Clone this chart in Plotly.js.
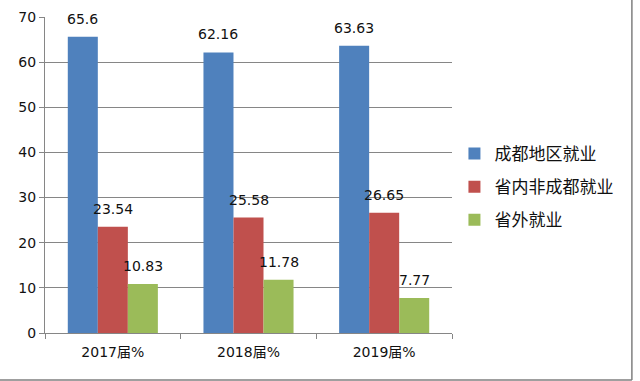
<!DOCTYPE html>
<html><head><meta charset="utf-8">
<script src="https://cdn.plot.ly/plotly-3.0.1.min.js"></script>
<style>html,body{margin:0;padding:0;background:#fff}#c{width:640px;height:381px}</style>
</head><body><div id="c"></div>
<script>
const categories = ['2017届%', '2018届%', '2019届%'];
const seriesNames = ['成都地区就业', '省内非成都就业', '省外就业'];
const chengdu = [65.6, 62.16, 63.63];
const provinceOther = [23.54, 25.58, 26.65];
const outside = [10.83, 11.78, 7.77];
const seriesValues = [chengdu, provinceOther, outside];
const colors = ['#4F81BD', '#C0504D', '#9BBB59'];
const yTicks = [0, 10, 20, 30, 40, 50, 60, 70];

const bargap = 0.336;
const barW = (1 - bargap) / 3;
const traces = seriesValues.map((vals, i) => ({
  type: 'bar', name: seriesNames[i], x: categories, y: vals,
  marker: {color: colors[i]}, legendgroup: 'g' + i,
  hoverinfo: 'y'
}));
const annotations = [];
seriesValues.forEach((vals, i) => {
  vals.forEach((v, j) => {
    annotations.push({
      x: j + (i - 1) * barW, y: v, xref: 'x', yref: 'y',
      text: String(v), showarrow: false, yanchor: 'bottom', yshift: 8,
      font: {family: 'DejaVu Sans', size: 14, color: '#111'}
    });
  });
});

const layout = {
  width: 640, height: 381,
  margin: {l: 45, r: 188, t: 17, b: 48, autoexpand: false},
  paper_bgcolor: '#fff', plot_bgcolor: '#fff',
  barmode: 'group', bargap: bargap, bargroupgap: 0,
  font: {family: 'DejaVu Sans', size: 14, color: '#111'},
  xaxis: {
    type: 'category', showline: true, linecolor: '#868686', linewidth: 1,
    ticks: 'outside', tickson: 'boundaries', ticklen: 5, tickcolor: '#868686',
    showgrid: false, tickfont: {family: 'DejaVu Sans, Noto Sans CJK SC', size: 14, color: '#111'},
    ticklabelstandoff: 6
  },
  yaxis: {
    range: [0, 70], tickvals: yTicks, showline: true, linecolor: '#868686', linewidth: 1,
    ticks: 'outside', ticklen: 5, tickcolor: '#868686',
    showgrid: true, gridcolor: '#868686', gridwidth: 1, zeroline: false,
    tickfont: {family: 'DejaVu Sans', size: 14, color: '#111'}
  },
  legend: {
    x: 1.006, y: 0.462, xanchor: 'left', yanchor: 'middle',
    font: {family: 'Noto Sans CJK SC', size: 17, color: '#111'},
    traceorder: 'grouped', tracegroupgap: 8, bgcolor: 'rgba(0,0,0,0)'
  },
  annotations: annotations,
  shapes: [
    {type: 'line', xref: 'paper', yref: 'paper', x0: 1.442, x1: 1.442, y0: 1.2, y1: -0.149, line: {color: '#7f7f7f', width: 1.5}},
    {type: 'line', xref: 'paper', yref: 'paper', x0: -0.2, x1: 1.442, y0: -0.149, y1: -0.149, line: {color: '#7f7f7f', width: 1.5}}
  ]
};
Plotly.newPlot('c', traces, layout, {displayModeBar: false, staticPlot: true});
</script></body></html>
